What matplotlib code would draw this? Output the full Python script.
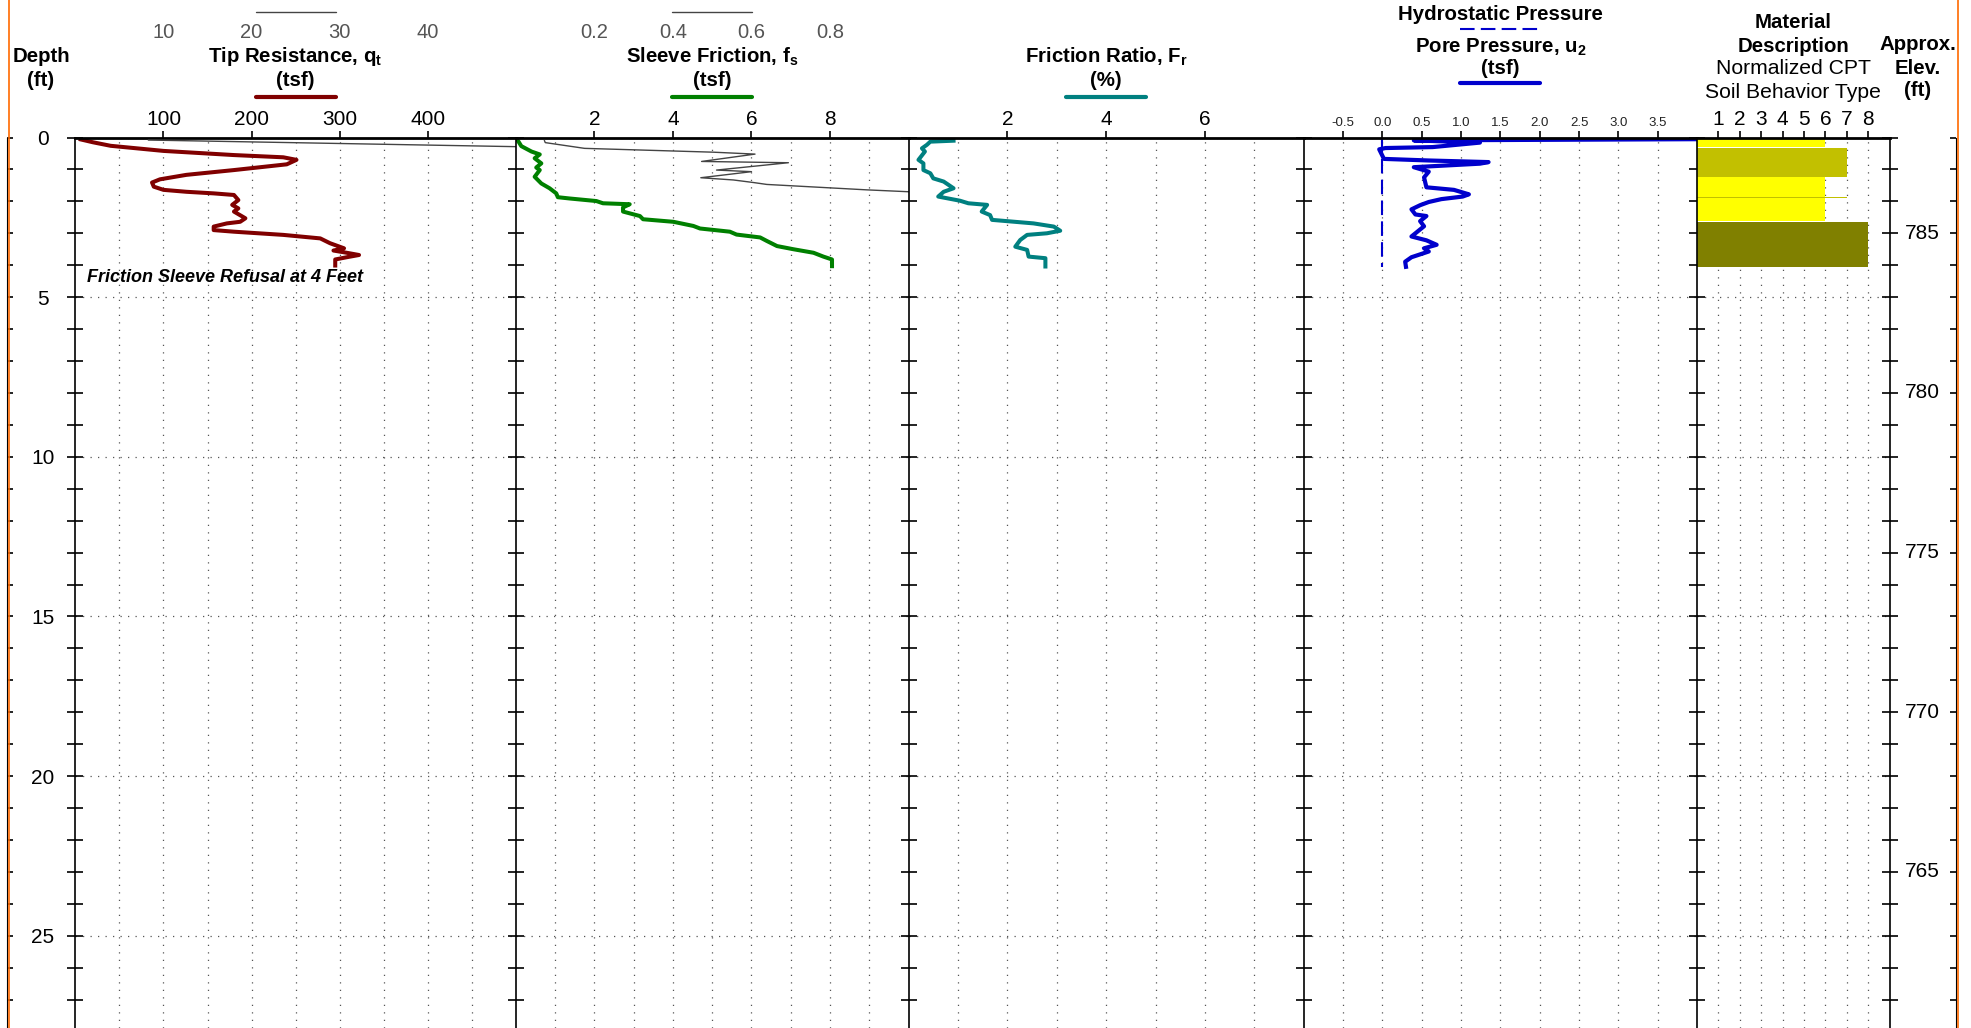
"""
CPT sounding log - tip, sleeve, friction ratio, pore pressure, SBT
"""

import numpy as np
import matplotlib
matplotlib.use('Agg')
import matplotlib.pyplot as plt
import matplotlib.transforms as mtrans
from matplotlib.lines import Line2D

plt.rcParams['font.family'] = ['Liberation Sans', 'DejaVu Sans']
plt.rcParams['mathtext.fontset'] = 'custom'
plt.rcParams['mathtext.rm'] = 'Liberation Sans'
plt.rcParams['mathtext.bf'] = 'Liberation Sans:bold'

qt_depth = [0.06, 0.15, 0.26, 0.42, 0.55, 0.62, 0.70, 0.84, 1.02, 1.17, 1.31, 1.41, 1.54,
            1.64, 1.70, 1.75, 1.80, 1.96, 2.11, 2.22, 2.32, 2.53, 2.64, 2.69, 2.79, 2.90,
            2.95, 3.05, 3.16, 3.31, 3.47, 3.54, 3.61, 3.68, 3.75, 3.82, 4.01]
qt_tsf = [6, 20, 40, 100, 180, 236, 251, 240, 180, 126, 96, 87, 89,
          100, 126, 157, 180, 185, 178, 185, 180, 193, 187, 172, 157, 157,
          180, 236, 278, 289, 305, 293, 308, 322, 308, 295, 295]

fs_depth = [0.09, 0.27, 0.44, 0.53, 0.65, 0.81, 0.94, 1.02, 1.23, 1.44, 1.59, 1.75, 1.87,
            1.91, 1.99, 2.06, 2.09, 2.19, 2.32, 2.46, 2.56, 2.64, 2.77, 2.85, 2.95, 3.04,
            3.13, 3.24, 3.40, 3.50, 3.61, 3.73, 3.82, 4.03]
fs_tsf = [0.05, 0.14, 0.40, 0.61, 0.48, 0.65, 0.52, 0.61, 0.48, 0.65, 0.86, 1.03, 1.07,
          1.37, 2.05, 2.22, 2.90, 2.73, 2.73, 3.16, 3.24, 4.01, 4.52, 4.69, 5.45, 5.62,
          6.22, 6.39, 6.65, 7.07, 7.58, 7.83, 8.05, 8.05]

fr_depth = [0.10, 0.13, 0.23, 0.34, 0.44, 0.70, 0.81, 1.02, 1.12, 1.28, 1.38, 1.59, 1.70,
            1.85, 1.98, 2.06, 2.11, 2.32, 2.43, 2.58, 2.69, 2.79, 2.92, 3.00, 3.05, 3.21,
            3.42, 3.52, 3.73, 3.78, 4.04]
fr_pct = [0.91, 0.44, 0.37, 0.27, 0.33, 0.20, 0.30, 0.30, 0.44, 0.50, 0.71, 0.91, 0.71,
          0.60, 1.04, 1.21, 1.59, 1.48, 1.65, 1.69, 2.53, 2.94, 3.07, 2.80, 2.40, 2.26,
          2.16, 2.40, 2.43, 2.77, 2.77]

u2_depth = [0.05, 0.09, 0.16, 0.30, 0.33, 0.37, 0.67, 0.72, 0.77, 0.82, 0.93, 1.07, 1.25,
            1.56, 1.64, 1.78, 1.85, 1.93, 2.02, 2.12, 2.25, 2.41, 2.46, 2.62, 2.78, 3.10,
            3.22, 3.36, 3.47, 3.57, 3.75, 3.89, 4.05]
u2_tsf = [4.3, 0.40, 1.24, 0.64, 0.04, -0.04, 0.02, 0.59, 1.35, 1.24, 0.40, 0.59, 0.53,
          0.56, 0.91, 1.10, 1.02, 0.75, 0.59, 0.48, 0.37, 0.42, 0.56, 0.48, 0.53, 0.37,
          0.56, 0.69, 0.53, 0.59, 0.37, 0.29, 0.30]

hydro_depth = [0.0, 4.05]
hydro_tsf = [0.0, 0.0]

# thin gray traces on the secondary (top) scales
gray_qt_depth = [0.08, 0.29]
gray_qt_val = [8.3, 50.6]
gray_fs_depth = [0.10, 0.16, 0.34, 0.46, 0.52, 0.75, 0.79, 1.02, 1.07, 1.26, 1.33, 1.41,
                 1.47, 1.64, 1.71]
gray_fs_val = [0.073, 0.075, 0.175, 0.503, 0.609, 0.473, 0.694, 0.511, 0.600, 0.471,
               0.554, 0.605, 0.639, 0.894, 1.02]

sbt_top = [0.00, 0.33, 1.25, 1.85, 1.91, 2.64]
sbt_bottom = [0.30, 1.25, 1.85, 1.91, 2.62, 4.05]
sbt_zone = [6, 7, 6, 7, 6, 8]
sbt_color = ['#FFFF00', '#C2C000', '#FFFF00', '#C2C000', '#FFFF00', '#808000']

elev_top = 788
elev_labels = [765, 770, 775, 780, 785]

# ---- layout (pixels of the 1971x1028 page) ----
W, H = 1971, 1028
top_px = 137.5
px_per_ft = 31.93
depth_max = (H - top_px) / px_per_ft
edges = [75.4, 515.8, 908.6, 1303.7, 1697.0, 1889.5]


def fx(px):
    return px / W


def fy(py):
    return 1 - py / H


fig = plt.figure(figsize=(W / 100, H / 100), dpi=100)

xlims = [(0, 500), (0, 10), (0, 8), (-1, 4), (0, 9)]
major = [[100, 200, 300, 400], [2, 4, 6, 8], [2, 4, 6], list(np.arange(-0.5, 3.6, 0.5)),
         [1, 2, 3, 4, 5, 6, 7, 8]]
grid_x = [list(range(50, 500, 50)), list(range(1, 10)), list(range(1, 8)),
          list(np.arange(-0.5, 3.6, 0.5)), list(range(1, 9))]
dot = (0, (1, 5))
tick_size = 15


def secondary_top(ax, lim, ticks, labels):
    t = ax.twiny()
    t.set_xlim(lim)
    t.set_xticks(ticks, labels)
    t.tick_params(axis='x', length=0, pad=69, labelsize=tick_size - 0.5, labelcolor='#555')
    for s in t.spines.values():
        s.set_visible(False)
    return t


axes = []
secs = []
for i in range(5):
    ax = fig.add_axes([fx(edges[i]), 0, fx(edges[i + 1]) - fx(edges[i]), fy(top_px)])
    ax.set_xlim(xlims[i])
    ax.set_ylim(depth_max, 0)
    if i == 0:
        secs.append(secondary_top(ax, (0, 50), [10, 20, 30, 40], ['10', '20', '30', '40']))
    elif i == 1:
        secs.append(secondary_top(ax, (0, 1), [0.2, 0.4, 0.6, 0.8],
                                  ['0.2', '0.4', '0.6', '0.8']))
    ax.xaxis.tick_top()
    ax.xaxis.set_label_position('top')
    ax.set_xticks(major[i])
    ax.set_xticks(grid_x[i], minor=True)
    if i == 3:
        ax.set_xticklabels(['%.1f' % v for v in major[i]])
        ax.tick_params(axis='x', which='major', labelsize=9.5, labelcolor='#222')
    else:
        ax.tick_params(axis='x', which='major', labelsize=tick_size)
    ax.tick_params(axis='x', which='major', direction='out', length=5, width=1.2, pad=1,
                   top=True, labeltop=True, bottom=False, labelbottom=False)
    ax.tick_params(axis='x', which='minor', length=0, top=False, bottom=False)
    ax.set_yticks([0, 5, 10, 15, 20, 25])
    ax.set_yticks(list(range(0, 28)), minor=True)
    ax.tick_params(axis='y', which='both', direction='inout', length=11, width=1.2,
                   labelleft=False)
    ax.grid(True, axis='x', which='both', linestyle=dot, color='#555', linewidth=0.9)
    ax.grid(True, axis='y', which='major', linestyle=dot, color='#555', linewidth=0.9)
    ax.set_axisbelow(True)
    ax.spines['top'].set_linewidth(2.0)
    ax.spines['left'].set_linewidth(1.2)
    ax.spines['bottom'].set_visible(False)
    ax.spines['right'].set_visible(i == 4)
    ax.spines['right'].set_linewidth(1.2)
    ax.patch.set_visible(False)
    axes.append(ax)

ax1, ax2, ax3, ax4, ax5 = axes
sec1, sec2 = secs

# depth labels
ax1.tick_params(axis='y', which='major', labelleft=True, labelsize=tick_size, pad=18)
for lab in ax1.get_yticklabels():
    lab.set_horizontalalignment('center')

# main traces
ax1.plot(qt_tsf, qt_depth, color='#800000', linewidth=2.9, solid_joinstyle='round')
ax2.plot(fs_tsf, fs_depth, color='#008000', linewidth=2.9, solid_joinstyle='round')
ax3.plot(fr_pct, fr_depth, color='#008080', linewidth=2.9, solid_joinstyle='round')
ax4.plot(hydro_tsf, hydro_depth, color='#0000CC', linewidth=1.5, dashes=(7, 3))
ax4.plot(u2_tsf, u2_depth, color='#0000CC', linewidth=3.0, solid_joinstyle='round')

sec1.plot(gray_qt_val, gray_qt_depth, color='#444', linewidth=1.0)
sec2.plot(gray_fs_val, gray_fs_depth, color='#444', linewidth=1.0)

ax1.text(13, 4.4, 'Friction Sleeve Refusal at 4 Feet', fontsize=13, fontweight='bold',
         fontstyle='italic', va='center', ha='left')

# soil behaviour type bars
for t0, t1, z, c in zip(sbt_top, sbt_bottom, sbt_zone, sbt_color):
    ax5.barh((t0 + t1) / 2, z, height=t1 - t0, left=0, color=c, linewidth=0)

# elevation scale on the right of the SBT panel
ax5.tick_params(axis='y', which='both', right=True)
elev_x = (1922 - edges[4]) / (edges[5] - edges[4])
blend = mtrans.blended_transform_factory(ax5.transAxes, ax5.transData)
for e in elev_labels:
    ax5.text(elev_x, elev_top - e, str(e), transform=blend, ha='center', va='center',
             fontsize=tick_size, clip_on=False)

# outer frame with inward foot ticks
frame = fig.add_axes([fx(7), 0, fx(1956) - fx(7), fy(top_px)], zorder=-1)
frame.set_ylim(depth_max, 0)
frame.patch.set_visible(False)
frame.set_xticks([])
frame.spines['top'].set_visible(False)
frame.spines['bottom'].set_visible(False)
frame.yaxis.set_ticks_position('both')
frame.set_yticks(list(range(0, 28)))
frame.tick_params(axis='y', direction='in', length=4, width=1.2, labelleft=False,
                  labelright=False)
for x in (8.5, 1957.5):
    fig.add_artist(Line2D([fx(x), fx(x)], [0, 1], color='#FF6A00', linewidth=1.2))

# ---- headers ----
centers = [(edges[i] + edges[i + 1]) / 2 for i in range(5)]
bold = dict(ha='center', va='center', fontweight='bold', fontsize=14.7)
reg = dict(ha='center', va='center', fontsize=15.2)


def hline(xc, y, color, lw, dashes=None, half=40):
    ln = Line2D([fx(xc - half), fx(xc + half)], [fy(y), fy(y)], color=color, linewidth=lw,
                solid_capstyle='round')
    if dashes:
        ln.set_dashes(dashes)
    fig.add_artist(ln)


fig.text(fx(41), fy(57), 'Depth', **bold)
fig.text(fx(41), fy(80), '(ft)', **bold)

fig.text(fx(centers[0]), fy(57), r'Tip Resistance, q$_\mathbf{t}$', **bold)
fig.text(fx(centers[0]), fy(81), '(tsf)', **bold)
hline(centers[0], 12, '#444', 1.0)
hline(centers[0], 97, '#800000', 3.0)

fig.text(fx(centers[1]), fy(57), r'Sleeve Friction, f$_\mathbf{s}$', **bold)
fig.text(fx(centers[1]), fy(81), '(tsf)', **bold)
hline(centers[1], 12, '#444', 1.0)
hline(centers[1], 97, '#008000', 3.0)

fig.text(fx(centers[2]), fy(57), r'Friction Ratio, F$_\mathbf{r}$', **bold)
fig.text(fx(centers[2]), fy(81), '(%)', **bold)
hline(centers[2], 97, '#008080', 3.0)

fig.text(fx(centers[3]), fy(15), 'Hydrostatic Pressure', **bold)
hline(centers[3], 29, '#0000CC', 1.5, dashes=(7, 3))
fig.text(fx(centers[3]), fy(47), r'Pore Pressure, u$_\mathbf{2}$', **bold)
fig.text(fx(centers[3]), fy(69), '(tsf)', **bold)
hline(centers[3], 83, '#0000CC', 3.0)

fig.text(fx(centers[4]), fy(23), 'Material', **bold)
fig.text(fx(centers[4]), fy(46), 'Description', **bold)
fig.text(fx(centers[4]), fy(68), 'Normalized CPT', **reg)
fig.text(fx(centers[4]), fy(92), 'Soil Behavior Type', **reg)

fig.text(fx(1918), fy(45), 'Approx.', **bold)
fig.text(fx(1918), fy(68), 'Elev.', **bold)
fig.text(fx(1918), fy(90), '(ft)', **bold)

fig.savefig('out.png', dpi=100)
